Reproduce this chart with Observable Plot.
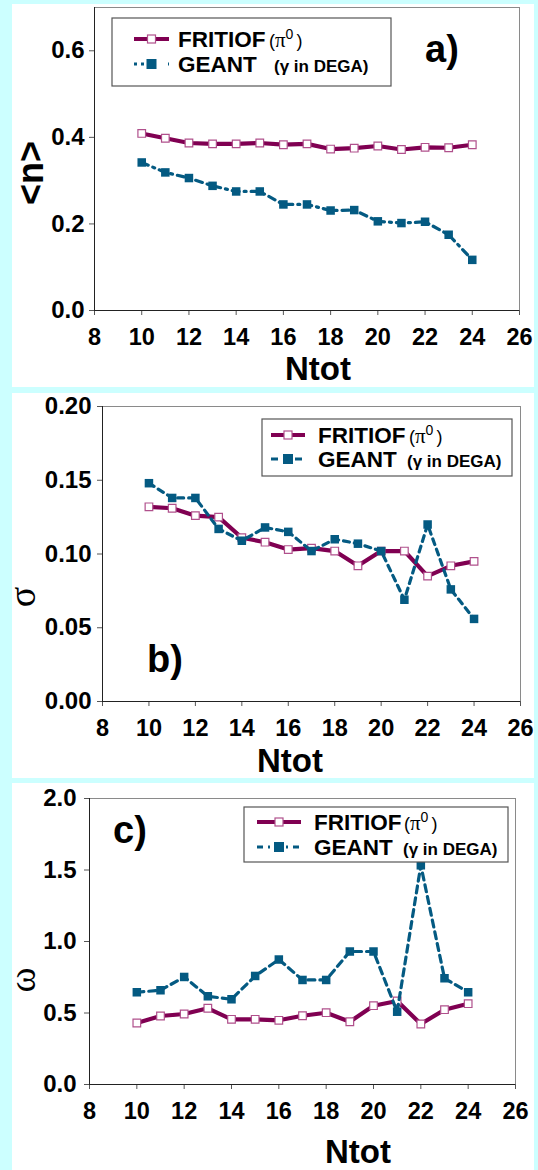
<!DOCTYPE html>
<html>
<head>
<meta charset="utf-8">
<script src="https://cdn.jsdelivr.net/npm/d3@7"></script>
<script src="https://cdn.jsdelivr.net/npm/@observablehq/plot@0.6"></script>
<style>
  html, body { margin: 0; padding: 0; background: #ccffff; }
  #page { position: relative; width: 538px; height: 1170px; background: #ccffff; overflow: hidden; }
  .panel { position: absolute; left: 12px; width: 522px; background: #ffffff; }
  .panel svg { display: block; }
</style>
</head>
<body>
<div id="page"></div>
<script>
// Total multiplicity Ntot (x axis, shared by all three panels)
const ntot = [10, 11, 12, 13, 14, 15, 16, 17, 18, 19, 20, 21, 22, 23, 24];
const xTicks = [8, 10, 12, 14, 16, 18, 20, 22, 24, 26];

// a) mean <n>
const meanFritiof = [0.409, 0.398, 0.387, 0.385, 0.385, 0.387, 0.383, 0.385, 0.373, 0.375, 0.380, 0.372, 0.377, 0.376, 0.383];
const meanGeant   = [0.342, 0.319, 0.306, 0.288, 0.275, 0.275, 0.245, 0.245, 0.231, 0.232, 0.206, 0.202, 0.205, 0.175, 0.117];
const meanTicks = [0, 0.2, 0.4, 0.6];

// b) width sigma
const sigmaFritiof = [0.132, 0.131, 0.126, 0.125, 0.111, 0.108, 0.103, 0.104, 0.102, 0.092, 0.102, 0.102, 0.085, 0.092, 0.095];
const sigmaGeant   = [0.148, 0.138, 0.138, 0.117, 0.109, 0.118, 0.115, 0.102, 0.110, 0.107, 0.102, 0.069, 0.120, 0.076, 0.056];
const sigmaTicks = [0, 0.05, 0.10, 0.15, 0.20];

// c) scaled variance omega
const omegaFritiof = [0.430, 0.479, 0.493, 0.533, 0.456, 0.456, 0.449, 0.481, 0.502, 0.439, 0.551, 0.584, 0.423, 0.523, 0.565];
const omegaGeant   = [0.645, 0.659, 0.752, 0.617, 0.596, 0.759, 0.874, 0.731, 0.731, 0.930, 0.930, 0.509, 1.533, 0.743, 0.645];
const omegaTicks = [0, 0.5, 1.0, 1.5, 2.0];

const seriesNames = ["FRITIOF", "GEANT"];

const FONT = "'Liberation Sans', Arial, sans-serif";
const FRIT_COLOR = "#800052";
const FRIT_EDGE = "#b0508c";
const GEANT_COLOR = "#045a82";

const rows = (ys) => ntot.map((n, i) => ({n, v: ys[i]}));

function panel(cfg) {
  const wrap = document.createElement("div");
  wrap.className = "panel";
  wrap.style.top = cfg.top + "px";
  wrap.style.height = cfg.height + "px";
  document.getElementById("page").appendChild(wrap);

  const fr = rows(cfg.fritiof);
  const ge = rows(cfg.geant);

  const chart = Plot.plot({
    width: 522,
    height: cfg.height,
    marginLeft: cfg.margin[3],
    marginRight: cfg.margin[1],
    marginTop: cfg.margin[0],
    marginBottom: cfg.margin[2],
    style: {fontFamily: FONT, background: "white", color: "black", overflow: "visible"},
    x: {domain: [8, 26]},
    y: {domain: cfg.yDomain},
    marks: [
      Plot.frame({stroke: "#8a8a8a"}),
      Plot.axisX({ticks: xTicks, tickSize: 5, tickPadding: 13, fontSize: 23.5, fontWeight: "bold", label: null, stroke: "#555"}),
      Plot.axisY({ticks: cfg.yTicks, tickSize: 5, tickPadding: cfg.yPad, fontSize: 24, fontWeight: "bold", label: null,
                  tickFormat: d => d.toFixed(cfg.digits), stroke: "#555"}),
      Plot.ruleX([8], {stroke: "#222"}),
      Plot.ruleY([cfg.yDomain[0]], {stroke: "#222"}),
      Plot.line(fr, {x: "n", y: "v", stroke: FRIT_COLOR, strokeWidth: 4.2, strokeLinejoin: "round"}),
      Plot.dot(fr, {x: "n", y: "v", symbol: "square", r: 4.3, fill: "white", stroke: FRIT_EDGE, strokeWidth: 1.2}),
      Plot.line(ge, {x: "n", y: "v", stroke: GEANT_COLOR, strokeWidth: 3.2, strokeDasharray: cfg.dash}),
      Plot.dot(ge, {x: "n", y: "v", symbol: "square", r: 4.8, fill: GEANT_COLOR})
    ]
  });
  wrap.appendChild(chart);

  const svg = d3.select(chart);

  // legend box
  const L = cfg.legend;
  const g = svg.append("g").attr("font-family", FONT).attr("text-anchor", "start");
  g.append("rect").attr("x", L.x).attr("y", L.y).attr("width", L.w).attr("height", L.h)
    .attr("fill", "white").attr("stroke", "#555").attr("stroke-width", 1.2);

  const mid = (L.sx0 + L.sx1) / 2;
  // FRITIOF entry
  const y1 = L.b1 - 8;
  g.append("line").attr("x1", L.sx0).attr("x2", L.sx1).attr("y1", y1).attr("y2", y1)
    .attr("stroke", FRIT_COLOR).attr("stroke-width", 4.2);
  g.append("rect").attr("x", mid - 4).attr("y", y1 - 4).attr("width", 8).attr("height", 8)
    .attr("fill", "white").attr("stroke", FRIT_EDGE).attr("stroke-width", 1.2);
  g.append("text").attr("x", L.tx).attr("y", L.b1).attr("font-size", 22.5).attr("font-weight", "bold")
    .text(seriesNames[0]);
  const pi = g.append("text").attr("x", L.px).attr("y", L.b1).attr("font-size", 18);
  pi.append("tspan").text("(");
  pi.append("tspan").attr("font-family", "'Liberation Serif', serif").attr("font-size", 21).text("\u03C0");
  pi.append("tspan").attr("dy", -8).attr("font-size", 14).text("0");
  pi.append("tspan").attr("dy", 8).attr("dx", 3).text(")");

  // GEANT entry
  const y2 = L.b2 - 8;
  g.append("line").attr("x1", L.sx0).attr("x2", L.sx1).attr("y1", y2).attr("y2", y2)
    .attr("stroke", GEANT_COLOR).attr("stroke-width", 3.2).attr("stroke-dasharray", cfg.legendDash);
  g.append("rect").attr("x", mid - 5).attr("y", y2 - 5).attr("width", 10).attr("height", 10)
    .attr("fill", GEANT_COLOR);
  g.append("text").attr("x", L.tx).attr("y", L.b2).attr("font-size", 22.5).attr("font-weight", "bold")
    .text(seriesNames[1]);
  g.append("text").attr("x", L.gx).attr("y", L.b2).attr("font-size", 17).attr("font-weight", "bold")
    .text("(\u03B3 in DEGA)");

  // panel tag
  svg.append("text").attr("x", cfg.tag.x).attr("y", cfg.tag.y).attr("font-family", FONT)
    .attr("text-anchor", "start")
    .attr("font-size", 38).attr("font-weight", "bold").text(cfg.tag.text);

  // axis titles
  svg.append("text").attr("x", cfg.xTitle.x).attr("y", cfg.xTitle.y).attr("text-anchor", "middle")
    .attr("font-family", FONT).attr("font-size", 33).attr("font-weight", "bold").text("Ntot");
  svg.append("text")
    .attr("transform", `translate(${cfg.yTitle.x},${cfg.yTitle.y}) rotate(-90)`)
    .attr("text-anchor", "middle")
    .attr("font-family", cfg.yTitle.serif ? "'Liberation Serif', serif" : FONT)
    .attr("font-size", cfg.yTitle.size)
    .attr("font-weight", cfg.yTitle.serif ? "normal" : "bold")
    .text(cfg.yTitle.text);
}

panel({
  top: 4, height: 383, margin: [3, 15, 77, 82],
  fritiof: meanFritiof, geant: meanGeant,
  yDomain: [0, 0.7], yTicks: meanTicks, digits: 1, yPad: 5,
  dash: "7,5,2,5", legendDash: "3,4,3,24,3,4",
  legend: {x: 100, y: 14, w: 279, h: 68, sx0: 122, sx1: 157, tx: 166, px: 257, gx: 262, b1: 43, b2: 68},
  tag: {x: 413, y: 58, text: "a)"},
  xTitle: {x: 306, y: 376},
  yTitle: {x: 31, y: 169, text: "<n>", size: 36, serif: false}
});

panel({
  top: 393, height: 385, margin: [13, 14, 77, 90],
  fritiof: sigmaFritiof, geant: sigmaGeant,
  yDomain: [0, 0.2], yTicks: sigmaTicks, digits: 2, yPad: 6,
  dash: "6,5", legendDash: "7,5",
  legend: {x: 250, y: 26, w: 250, h: 57, sx0: 259, sx1: 293, tx: 306, px: 397, gx: 395, b1: 50, b2: 74},
  tag: {x: 135, y: 279, text: "b)"},
  xTitle: {x: 278, y: 379},
  yTitle: {x: 23, y: 204, text: "\u03C3", size: 38, serif: true}
});

panel({
  top: 783, height: 387, margin: [15, 19, 86, 77],
  fritiof: omegaFritiof, geant: omegaGeant,
  yDomain: [0, 2.0], yTicks: omegaTicks, digits: 1, yPad: 8,
  dash: "7,5", legendDash: "6,5,2,5",
  legend: {x: 232, y: 24, w: 264, h: 55, sx0: 245, sx1: 289, tx: 302, px: 392, gx: 391, b1: 47, b2: 72},
  tag: {x: 101, y: 60, text: "c)"},
  xTitle: {x: 346, y: 380},
  yTitle: {x: 23, y: 197, text: "\u03C9", size: 38, serif: true}
});
</script>
</body>
</html>
